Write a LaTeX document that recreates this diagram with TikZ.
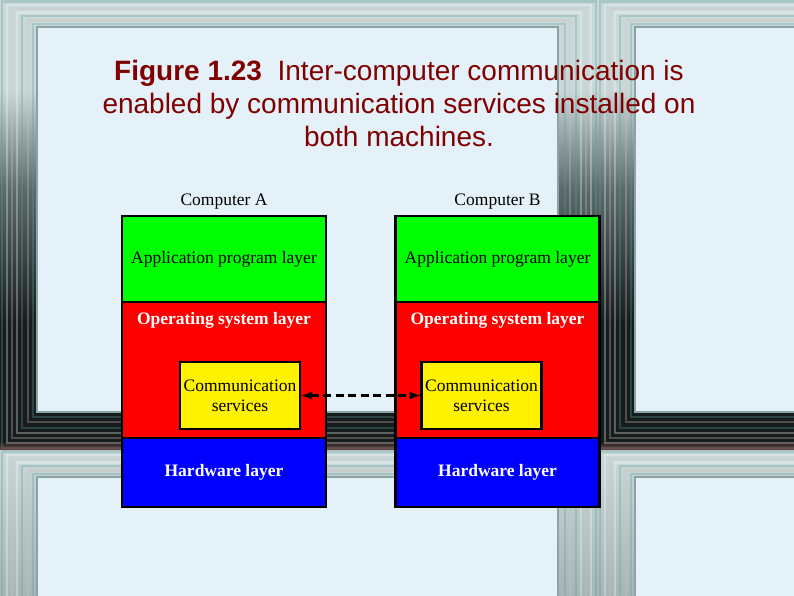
\documentclass[tikz,border=0pt]{standalone}
\usepackage{fontspec}
\setmainfont{Liberation Serif}
\newfontfamily\captionfont{Liberation Sans}
\usepackage{tikz}
\usetikzlibrary{arrows.meta,positioning}
\definecolor{panelblue}{HTML}{E5F1F8}
\definecolor{titlered}{HTML}{800000}
\definecolor{framelt}{HTML}{C9D8D8}
\definecolor{framemid}{HTML}{5B6B6B}
\definecolor{framedk}{HTML}{161C1C}
\definecolor{framered}{HTML}{7A4040}
\definecolor{framecyan}{HTML}{5E9E9E}
\definecolor{framepink}{HTML}{D9BFBF}
\definecolor{framegray}{HTML}{8AA3A3}
\pgfdeclareverticalshading{framedark}{100bp}{color(0bp)=(framered); color(25bp)=(framered); color(26bp)=(framedk); color(39bp)=(framedk); color(54bp)=(framemid); color(65bp)=(framelt); color(100bp)=(framelt)}

\begin{document}
\begin{tikzpicture}[x=1pt,y=-1pt,
	  layer/.style={draw=black,line width=2.4pt,minimum width=204pt,inner sep=0pt,outer sep=0pt,font=\fontsize{17.5}{20}\selectfont},
	  comm/.style={draw=black,line width=2.4pt,fill=yellow,minimum width=120pt,minimum height=67pt,inner sep=0pt,outer sep=0pt,align=center,font=\fontsize{17.5}{20}\selectfont},
	  link/.style={{Latex[length=12pt,width=8pt]}-{Latex[length=12pt,width=8pt]},dash pattern=on 8pt off 4.5pt,line width=2.6pt}]
	  \tikzstyle{word} = [font=\fontsize{17.5}{20}\selectfont,inner sep=0pt]
	  \tikzstyle{whitebold} = [font=\fontsize{17.5}{20}\selectfont\bfseries,text=white,inner sep=0pt]
	  \useasboundingbox (0,0) rectangle (794,595);
	  \begin{scope}
	  \clip (0,0) rectangle (794,595);
	  \foreach \ox in {0,598} {
	    \shade[shading=framedark] (\ox,0) rectangle (\ox+598,450);
	    \shade[top color=framelt,bottom color=framemid] (\ox,450) rectangle (\ox+598,900);
	  }
	  \foreach \ox/\oy in {0/0,598/0,0/450,598/450} {
	    \foreach \d/\c in {2/framecyan,7/white,12/framepink,17/white,22/framecyan,28/framepink,33/framecyan}
	      \draw[\c,opacity=.3,line width=2.5pt] (\ox+\d,\oy+.73*\d) rectangle (\ox+598-\d,\oy+450-\d);
	    \fill[panelblue,draw=framegray,line width=1.5pt] (\ox+37,\oy+27) rectangle (\ox+558,\oy+412);
	  }
	  \end{scope}
	  \node (caption) [anchor=north,align=center,inner sep=0pt,text=titlered,font=\captionfont\fontsize{28}{33}\selectfont] at (399,60)
	    {\textbf{Figure 1.23}\ \ Inter-computer communication is\\enabled by communication services installed on\\both machines.};
	  \node (a_app) [layer,fill=green,minimum height=86pt] at (224,259) {Application program layer};
	  \node (a_os) [layer,fill=red,minimum height=136pt,below=0pt of a_app] {};
	  \node (a_hw) [layer,fill=blue,minimum height=69pt,below=0pt of a_os,font=\fontsize{17.5}{20}\selectfont\bfseries,text=white] {Hardware layer};
	  \node (a_ostext) [whitebold,below=10pt of a_os.north] {Operating system layer};
	  \node (a_comm) [comm,above left=9pt and 26pt of a_os.south east] {Communication\\services};
	  \node (a_name) [word,above=7pt of a_app] {Computer A};
	  \node (b_app) [layer,fill=green,minimum height=86pt] at (497.5,259) {Application program layer};
	  \node (b_os) [layer,fill=red,minimum height=136pt,below=0pt of b_app] {};
	  \node (b_hw) [layer,fill=blue,minimum height=69pt,below=0pt of b_os,font=\fontsize{17.5}{20}\selectfont\bfseries,text=white] {Hardware layer};
	  \node (b_ostext) [whitebold,below=10pt of b_os.north] {Operating system layer};
	  \node (b_comm) [comm,above right=9pt and 26pt of b_os.south west] {Communication\\services};
	  \node (b_name) [word,above=7pt of b_app] {Computer B};
	  \draw[link] (a_comm) -- (b_comm);
	\end{tikzpicture}
\end{document}
